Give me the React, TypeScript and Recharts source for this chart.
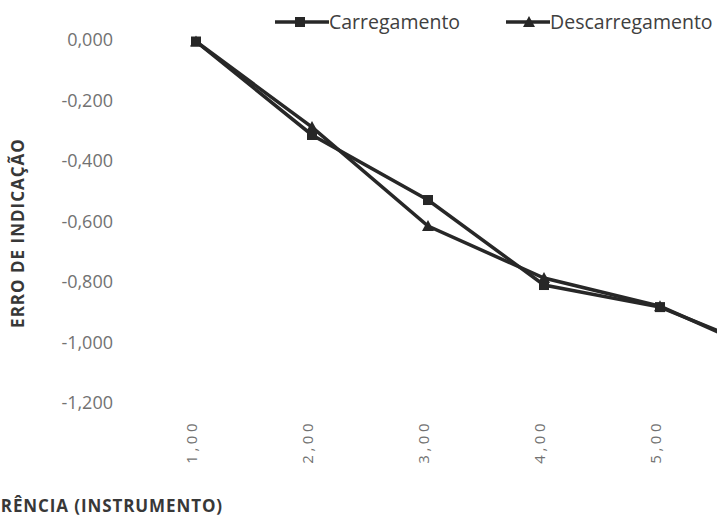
import React from "react";
import { LineChart, Line, XAxis, YAxis } from "recharts";

const categories = [1, 2, 3, 4, 5, 6];
const xTickLabels = ["1,00", "2,00", "3,00", "4,00", "5,00", "6,00"];
const yTicks = [0, -0.2, -0.4, -0.6, -0.8, -1.0, -1.2];
const yTickLabels = ["0,000", "-0,200", "-0,400", "-0,600", "-0,800", "-1,000", "-1,200"];
const carregamento = [-0.005, -0.314, -0.529, -0.81, -0.883, -1.04];
const descarregamento = [-0.005, -0.288, -0.615, -0.787, -0.88, -1.05];

const data = categories.map((c, i) => ({
    x: c,
    carregamento: carregamento[i],
    descarregamento: descarregamento[i],
}));

const LINE = "#272727";
const TICK = "#727272";
const TITLE = "#383838";
const FONT = "'Open Sans', sans-serif";

const SquareDot = (props: any) => {
    const { cx, cy, index } = props;
    return <rect key={`sq-${index}`} x={cx - 5} y={cy - 5} width={10} height={10} fill={LINE} />;
};

const TriangleDot = (props: any) => {
    const { cx, cy, index } = props;
    return (
        <path
            key={`tr-${index}`}
            d={`M${cx},${cy - 6} L${cx + 6},${cy + 5} L${cx - 6},${cy + 5} Z`}
            fill={LINE}
        />
    );
};

const XTick = (props: any) => {
    const { x, y, payload } = props;
    const i = categories.indexOf(payload.value);
    return (
        <text
            x={x}
            y={y}
            transform={`rotate(-90, ${x}, ${y})`}
            textAnchor="end"
            dy="0.05em"
            fill={TICK}
            fontSize={15}
            letterSpacing={3.5}
            fontFamily={FONT}
        >
            {xTickLabels[i]}
        </text>
    );
};

const YTick = (props: any) => {
    const { x, y, payload } = props;
    const i = yTicks.findIndex((t) => Math.abs(t - payload.value) < 1e-9);
    return (
        <text x={x} y={y} textAnchor="end" dy="0.35em" fill={TICK} fontSize={18} fontFamily={FONT}>
            {yTickLabels[i]}
        </text>
    );
};

// legend drawn as html over the chart
const LegendBox = () => (
    <div
        style={{
            position: "absolute",
            left: 275,
            top: 9,
            display: "flex",
            fontFamily: FONT,
            fontSize: 19.5,
            color: "#404040",
            lineHeight: "26px",
            whiteSpace: "nowrap",
        }}
    >
        <div style={{ display: "flex", alignItems: "center", marginRight: 46 }}>
            <svg width={54} height={14}>
                <line x1={0} y1={7} x2={54} y2={7} stroke={LINE} strokeWidth={3.5} />
                <rect x={20} y={2} width={10} height={10} fill={LINE} />
            </svg>
            <span>Carregamento</span>
        </div>
        <div style={{ display: "flex", alignItems: "center" }}>
            <svg width={44} height={14}>
                <line x1={0} y1={7} x2={44} y2={7} stroke={LINE} strokeWidth={3.5} />
                <path d="M23,1 L29,12 L17,12 Z" fill={LINE} />
            </svg>
            <span>Descarregamento</span>
        </div>
    </div>
);

const YTitle = () => (
    <text
        x={24}
        y={233}
        transform="rotate(-90, 24, 233)"
        textAnchor="middle"
        fill={TITLE}
        fontSize={17}
        fontWeight={700}
        letterSpacing={1}
        fontFamily={FONT}
    >
        ERRO DE INDICAÇÃO
    </text>
);

const XTitle = () => (
    <text
        x={223}
        y={512}
        textAnchor="end"
        fill={TITLE}
        fontSize={17}
        fontWeight={700}
        letterSpacing={0.9}
        fontFamily={FONT}
    >
        VALOR DE REFERÊNCIA (INSTRUMENTO)
    </text>
);

const App: React.FC = () => {
    return (
        <div
            style={{
                position: "absolute",
                left: 0,
                top: 0,
                width: 717,
                height: 518,
                overflow: "hidden",
                background: "#fff",
            }}
        >
            <LineChart
                width={860}
                height={518}
                data={data}
                margin={{ top: 40, right: 26, left: 0, bottom: 0 }}
            >
                <XAxis
                    dataKey="x"
                    type="number"
                    domain={[0.5, 6.5]}
                    ticks={categories}
                    height={115}
                    axisLine={false}
                    tickLine={false}
                    tickSize={0}
                    tickMargin={17}
                    tick={<XTick />}
                    interval={0}
                    label={<XTitle />}
                />
                <YAxis
                    type="number"
                    domain={[-1.2, 0]}
                    ticks={yTicks}
                    width={138}
                    axisLine={false}
                    tickLine={false}
                    tickSize={0}
                    tickMargin={25}
                    tick={<YTick />}
                    interval={0}
                    label={<YTitle />}
                />
                <Line
                    dataKey="carregamento"
                    name="Carregamento"
                    stroke={LINE}
                    strokeWidth={3.5}
                    dot={SquareDot}
                    activeDot={false}
                    isAnimationActive={false}
                />
                <Line
                    dataKey="descarregamento"
                    name="Descarregamento"
                    stroke={LINE}
                    strokeWidth={3.5}
                    dot={TriangleDot}
                    activeDot={false}
                    isAnimationActive={false}
                />
            </LineChart>
            <LegendBox />
        </div>
    );
};

export default App;
